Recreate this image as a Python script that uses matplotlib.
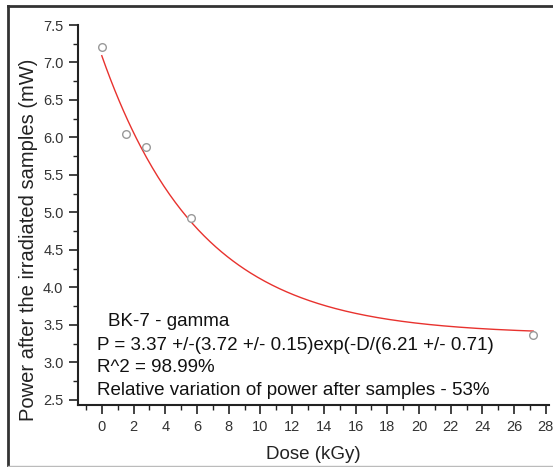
import numpy as np
import matplotlib.pyplot as plt
from matplotlib.lines import Line2D
from matplotlib.ticker import MultipleLocator

# data
dose = [0, 1.5, 2.8, 5.6, 27.2]
power = [7.2, 6.05, 5.87, 4.93, 3.37]

# fit: P = y0 + A exp(-D/t)
y0, amp, tau = 3.37, 3.72, 6.21

notes = ["BK-7 - gamma",
         "P = 3.37 +/-(3.72 +/- 0.15)exp(-D/(6.21 +/- 0.71)",
         "R^2 = 98.99%",
         "Relative variation of power after samples - 53%"]

plt.rcParams['font.family'] = ['Liberation Sans', 'DejaVu Sans']

fig = plt.figure(figsize=(5.53, 4.67), dpi=100)
ax = fig.add_axes([78 / 553, 1 - 405 / 467, 471 / 553, (405 - 25) / 467])

d_fit = np.linspace(0, max(dose), 300)
ax.plot(d_fit, y0 + amp * np.exp(-d_fit / tau), color='#e8322e', lw=1.0)
ax.plot(dose, power, 'o', ms=5.5, mfc='white', mec='#999999', mew=1.0)

ax.set_xlim(-1.5, 28.2)
ax.set_ylim(2.43, 7.5)
ax.xaxis.set_minor_locator(MultipleLocator(1))
ax.yaxis.set_minor_locator(MultipleLocator(0.25))
ax.set_xticks(np.arange(0, 29, 2))
ax.set_yticks(np.arange(2.5, 7.6, 0.5))
ax.yaxis.set_major_formatter(plt.FormatStrFormatter('%.1f'))

for s in ['top', 'right']:
    ax.spines[s].set_visible(False)
for s in ['left', 'bottom']:
    ax.spines[s].set_linewidth(1.5)
    ax.spines[s].set_color('#222222')
ax.tick_params(which='major', direction='out', length=6.5, width=1.2,
               labelsize=10.5, colors='#222222', labelcolor='#333333')
ax.tick_params(axis='x', which='major', pad=4.5)
ax.tick_params(axis='y', which='major', pad=4)
ax.tick_params(which='minor', direction='out', length=3.5, width=1.0,
               colors='#222222')

ax.set_xlabel('Dose (kGy)', fontsize=13.5, color='#222222', labelpad=8.5)
ax.set_ylabel('Power after the irradiated samples (mW)', fontsize=14.5,
              color='#222222')
ax.yaxis.set_label_coords(-0.085, 0.434)

ax.text(0.4, 3.54, notes[0], fontsize=13.5, color='#111111', va='center')
for i, t in enumerate(notes[1:]):
    ax.text(-0.3, 3.22 - i * 0.295, t, fontsize=13.5, color='#111111',
            va='center')

# outer frame of the picture
fig.add_artist(Line2D([8 / 553, 8 / 553], [1 - 466 / 467, 1 - 6 / 467],
                      transform=fig.transFigure, color='#333333', lw=2))
fig.add_artist(Line2D([8 / 553, 1], [1 - 6 / 467, 1 - 6 / 467],
                      transform=fig.transFigure, color='#333333', lw=2))
fig.add_artist(Line2D([8 / 553, 1], [1 - 465.5 / 467, 1 - 465.5 / 467],
                      transform=fig.transFigure, color='#bbbbbb', lw=1))

fig.savefig('out.png', dpi=100)
